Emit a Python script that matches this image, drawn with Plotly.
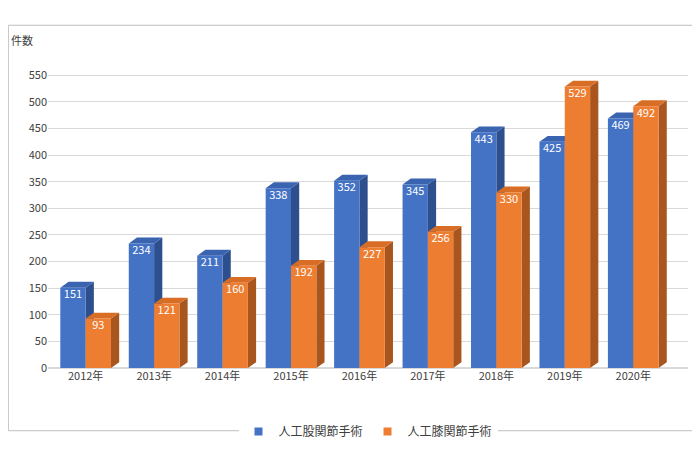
import plotly.graph_objects as go

years = ["2012年", "2013年", "2014年", "2015年", "2016年", "2017年", "2018年", "2019年", "2020年"]
hip = [151, 234, 211, 338, 352, 345, 443, 425, 469]
knee = [93, 121, 160, 192, 227, 256, 330, 529, 492]
series_names = ["人工股関節手術", "人工膝関節手術"]

W = 0.37     # bar width in category units
DX = 0.12    # depth offset in x
DY = 11      # depth offset in value units

styles = [
    dict(front="#4472C4", top="#3A63B0", side="#2D4F8E", off=-W),
    dict(front="#ED7D31", top="#D86E26", side="#A9561E", off=0.0),
]
FONT = "Noto Sans CJK JP, Noto Sans, sans-serif"

fig = go.Figure()


def poly_trace(xs, ys, color):
    return go.Scatter(x=xs, y=ys, fill="toself", mode="lines", line=dict(width=0, color=color),
                      fillcolor=color, hoverinfo="skip", showlegend=False)


for vals, st in zip([hip, knee], styles):
    fx, fy, tx, ty, sx, sy = [], [], [], [], [], []
    for i, v in enumerate(vals):
        x0 = i + st["off"]
        x1 = x0 + W
        fx += [x0, x1, x1, x0, x0, None]
        fy += [0, 0, v, v, 0, None]
        tx += [x0, x1, x1 + DX, x0 + DX, x0, None]
        ty += [v, v, v + DY, v + DY, v, None]
        sx += [x1, x1 + DX, x1 + DX, x1, x1, None]
        sy += [0, DY, v + DY, v, 0, None]
    fig.add_trace(poly_trace(sx, sy, st["side"]))
    fig.add_trace(poly_trace(tx, ty, st["top"]))
    fig.add_trace(poly_trace(fx, fy, st["front"]))
    fig.add_trace(go.Scatter(
        x=[i + st["off"] + W / 2 for i in range(len(vals))], y=[v - 4 for v in vals],
        mode="text", text=[str(v) for v in vals], textposition="bottom center",
        textfont=dict(color="white", size=11, family=FONT), hoverinfo="skip", showlegend=False))

for name, st in zip(series_names, styles):
    fig.add_trace(go.Scatter(x=[None], y=[None], mode="markers", name=name,
                             marker=dict(symbol="square", size=8, color=st["front"])))

fig.add_annotation(text="件数", xref="paper", yref="paper", x=-0.04, y=1.04,
                   xanchor="center", yanchor="bottom", showarrow=False,
                   font=dict(size=11, color="#404040", family=FONT))

fig.add_shape(type="rect", xref="paper", yref="paper", x0=-0.062, y0=-0.205, x1=1.03, y1=1.12,
              line=dict(color="#BFBFBF", width=1))

fig.update_layout(
    width=700, height=450,
    margin=dict(l=40, r=20, t=54, b=78),
    paper_bgcolor="white", plot_bgcolor="white",
    font=dict(family=FONT, color="#404040", size=11),
    legend=dict(orientation="h", x=0.5, xanchor="center", y=-0.16, yanchor="top",
                font=dict(size=12, color="#404040")),
)
fig.update_xaxes(range=[-0.55, 8.8], tickvals=list(range(len(years))), ticktext=years,
                 showgrid=False, zeroline=False, showline=False, ticks="")
fig.update_yaxes(range=[0, 575], dtick=50, showgrid=True, gridcolor="#D9D9D9",
                 zeroline=True, zerolinecolor="#D9D9D9", ticks="")

fig.write_html("out.html")
